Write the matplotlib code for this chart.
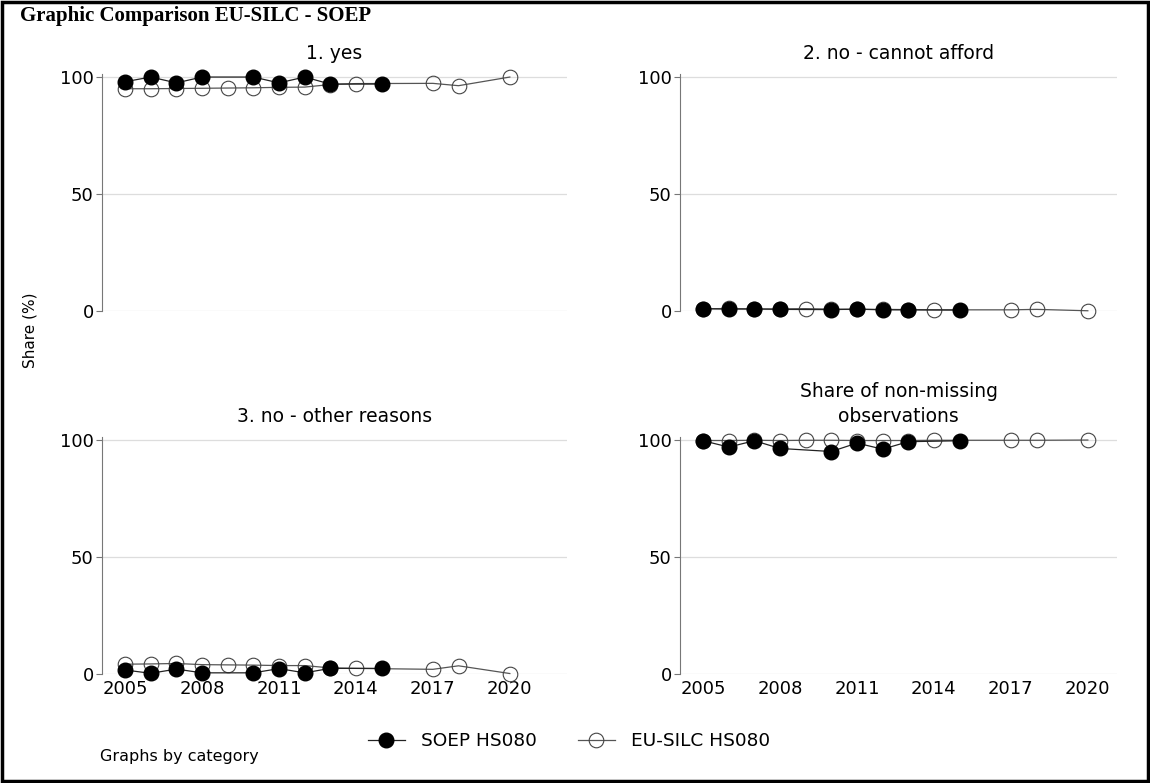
import numpy as np
import matplotlib
matplotlib.use('Agg')
import matplotlib.pyplot as plt
from matplotlib.patches import Rectangle

# Survey years for each source
soep_years = [2005, 2006, 2007, 2008, 2010, 2011, 2012, 2013, 2015]
silc_years = [2005, 2006, 2007, 2008, 2009, 2010, 2011, 2012, 2013, 2014, 2017, 2018, 2020]

# Panel titles
titles = ['1. yes', '2. no - cannot afford', '3. no - other reasons',
          'Share of non-missing\nobservations']

# Shares (%) per panel, SOEP HS080
soep_yes = [98, 100, 97.5, 100, 100, 97.5, 100, 97, 97]
soep_afford = [1.0, 0.8, 0.9, 0.7, 0.6, 0.8, 0.5, 0.5, 0.4]
soep_other = [1.7, 0.3, 2.1, 0.5, 0.5, 2.3, 0.5, 2.4, 2.4]
soep_nonmiss = [99.7, 97.0, 99.7, 96.4, 95.1, 98.7, 96.1, 99.3, 99.7]

# Shares (%) per panel, EU-SILC HS080
silc_yes = [95.0, 95.0, 95.1, 95.2, 95.3, 95.4, 95.6, 95.7, 96.8, 97.2, 97.3, 96.3, 100]
silc_afford = [0.9, 1.1, 0.8, 0.9, 1.0, 0.8, 0.7, 0.7, 0.6, 0.5, 0.5, 0.7, 0.1]
silc_other = [4.2, 4.3, 4.5, 4.0, 3.9, 3.8, 3.6, 3.6, 2.6, 2.4, 2.0, 3.5, 0.2]
silc_nonmiss = [99.8, 99.8, 99.9, 99.8, 99.9, 99.9, 99.8, 99.8, 99.8, 99.9, 99.9, 99.9, 100]

soep_vals = [soep_yes, soep_afford, soep_other, soep_nonmiss]
silc_vals = [silc_yes, silc_afford, silc_other, silc_nonmiss]

xticks = [2005, 2008, 2011, 2014, 2017, 2020]
yticks = [0, 50, 100]

W, H = 1150, 783
fig = plt.figure(figsize=(W / 100, H / 100), dpi=100)

# Panel boxes in pixels: (left, right, top, bottom)
boxes = [(102, 567, 74, 311), (680, 1117, 74, 311),
         (102, 567, 437, 674), (680, 1117, 437, 674)]

for i, (l, r, t, b) in enumerate(boxes):
    ax = fig.add_axes([l / W, 1 - b / H, (r - l) / W, (b - t) / H])
    ax.plot(silc_years, silc_vals[i], color='#555555', lw=0.9, marker='o',
            ms=10.5, mfc='none', mec='#444444', mew=0.8, zorder=3, clip_on=False)
    ax.plot(soep_years, soep_vals[i], color='#222222', lw=0.9, marker='o',
            ms=10.5, mfc='black', mec='black', zorder=4, clip_on=False)

    ax.set_ylim(0, 101.3)
    ax.set_xlim(2004.1, 2004.1 + (r - l) / 25.65)
    ax.set_yticks(yticks)
    ax.set_xticks(xticks)
    ax.grid(axis='y', color='#dddddd', lw=0.9)
    ax.set_axisbelow(True)
    for s in ['top', 'right', 'bottom']:
        ax.spines[s].set_visible(False)
    ax.spines['left'].set_color('#777777')
    ax.tick_params(axis='y', length=4, color='#777777', labelsize=13, pad=2)
    ax.tick_params(axis='x', length=0, labelsize=13, pad=4)
    if i < 2:
        ax.tick_params(axis='x', labelbottom=False)
    ax.set_title(titles[i], fontsize=13.5, pad=11, linespacing=1.35)

# Labels around the panels
fig.text(30 / W, 1 - 330 / H, 'Share (%)', rotation=90, fontsize=11,
         ha='center', va='center')
fig.text(100 / W, 1 - 756 / H, 'Graphs by category', fontsize=11.5,
         ha='left', va='center')
fig.text(20 / W, 1 - 16 / H, 'Graphic Comparison EU-SILC - SOEP',
         family='Liberation Serif', weight='bold', fontsize=15,
         ha='left', va='center')

# Legend below the panels
h1, = plt.plot([], [], color='#222222', lw=0.9, marker='o', ms=10.5, mfc='black', mec='black')
h2, = plt.plot([], [], color='#555555', lw=0.9, marker='o', ms=10.5, mfc='none', mec='#444444', mew=0.8)
fig.legend([h1, h2], ['SOEP HS080', 'EU-SILC HS080'], loc='center',
           bbox_to_anchor=(569 / W, 1 - 741 / H), ncol=2, frameon=False,
           fontsize=13.3, handlelength=2.0, columnspacing=2.2, handletextpad=0.9)

# Outer frame around the graphic
fig.patches.append(Rectangle((0.002, 0.002), 0.996, 0.996, transform=fig.transFigure,
                             fill=False, edgecolor='black', lw=2.5))

fig.savefig('out.png', dpi=100)
